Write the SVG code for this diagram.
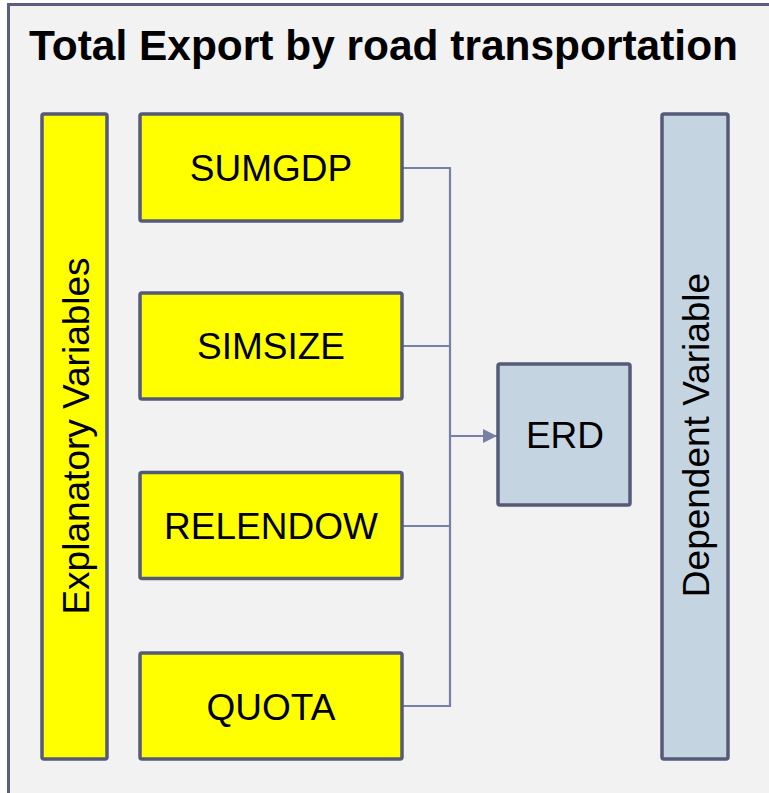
<svg xmlns="http://www.w3.org/2000/svg" width="769" height="793" viewBox="0 0 769 793">
  <defs>
    <style>
      .frame { fill: #f2f2f2; stroke: #5a5f7c; stroke-width: 3; }
      .var { fill: #ffff00; stroke: #555a78; stroke-width: 3.5; }
      .dep { fill: #c5d4e1; stroke: #555a78; stroke-width: 3.5; }
      .lbl { font-family: "Liberation Sans", Arial, sans-serif; font-size: 37px; fill: #000; text-anchor: middle; }
      .title { font-family: "Liberation Sans", Arial, sans-serif; font-size: 43px; font-weight: bold; fill: #000; }
      .wire { fill: none; stroke: #7780a6; stroke-width: 2.2; }
    </style>
    <marker id="arrow" viewBox="0 0 10 10" refX="10" refY="5" markerWidth="15" markerHeight="14" markerUnits="userSpaceOnUse" orient="auto">
      <path d="M0,0 L10,5 L0,10 Z" fill="#7780a6"/>
    </marker>
  </defs>

  <!-- outer panel -->
  <rect class="frame" x="8.5" y="4.5" width="780" height="810"/>
  <text class="title" x="29" y="60" textLength="709" lengthAdjust="spacingAndGlyphs">Total Export by road transportation</text>

  <!-- side bars -->
  <g id="explanatory">
    <rect class="var" x="42" y="114" width="65" height="645" rx="2"/>
    <text class="lbl" transform="translate(89,436) rotate(-90)" x="0" y="0">Explanatory Variables</text>
  </g>
  <g id="dependent">
    <rect class="dep" x="662" y="114" width="66" height="645" rx="2"/>
    <text class="lbl" transform="translate(709,435) rotate(-90)" x="0" y="0">Dependent Variable</text>
  </g>

  <!-- connectors -->
  <g id="connectors">
    <path class="wire" d="M403,168 H450 M403,346 H450 M403,526 H450 M403,706 H450 M450,167 V707"/>
    <path class="wire" d="M450,436 H497" marker-end="url(#arrow)"/>
  </g>

  <!-- explanatory variable nodes -->
  <g id="sumgdp">
    <rect class="var" x="140" y="114" width="262" height="107" rx="2"/>
    <text class="lbl" x="271" y="181">SUMGDP</text>
  </g>
  <g id="simsize">
    <rect class="var" x="140" y="293" width="262" height="106" rx="2"/>
    <text class="lbl" x="271" y="359">SIMSIZE</text>
  </g>
  <g id="relendow">
    <rect class="var" x="140" y="472.5" width="262" height="106" rx="2"/>
    <text class="lbl" x="271" y="539">RELENDOW</text>
  </g>
  <g id="quota">
    <rect class="var" x="140" y="653" width="262" height="106" rx="2"/>
    <text class="lbl" x="271" y="720">QUOTA</text>
  </g>

  <!-- dependent variable node -->
  <g id="erd">
    <rect class="dep" x="498" y="364" width="132" height="141" rx="2"/>
    <text class="lbl" x="565" y="448">ERD</text>
  </g>
</svg>
